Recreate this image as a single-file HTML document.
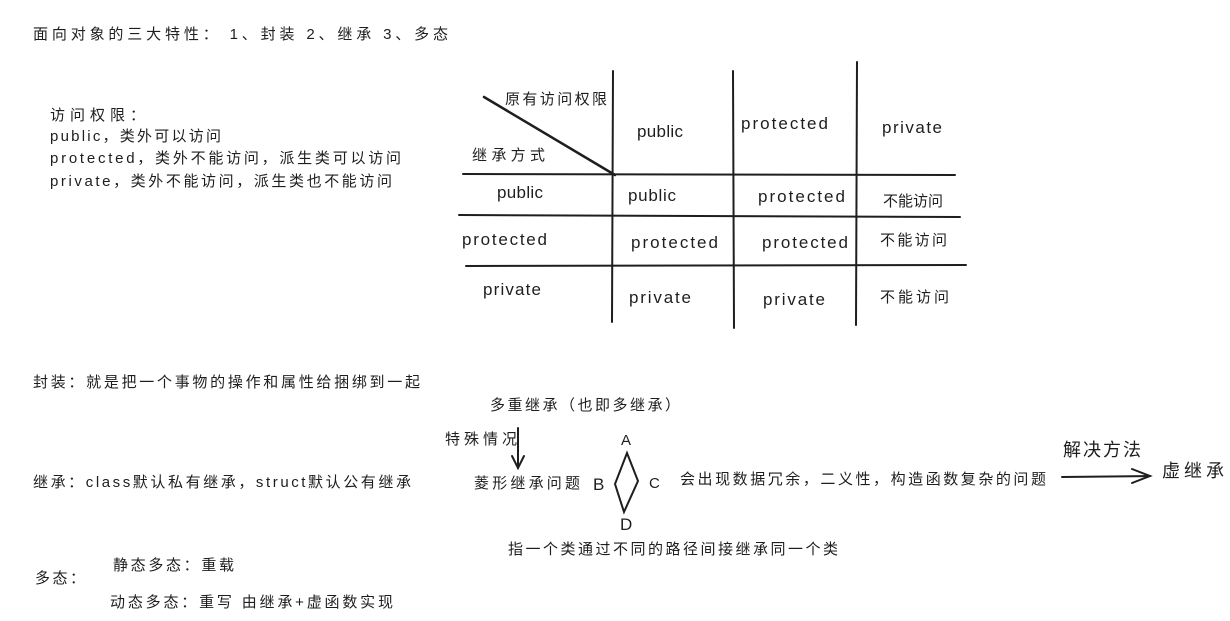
<!DOCTYPE html>
<html><head><meta charset="utf-8"><style>
html,body{margin:0;padding:0;background:#fff;}
svg{display:block;}
text{font-family:"Liberation Sans","Noto Sans CJK SC",sans-serif;font-size:15px;fill:#1e1e1e;}
.b{font-size:17px;}
</style></head><body>
<svg width="1230" height="621" viewBox="0 0 1230 621" xmlns="http://www.w3.org/2000/svg">
<g stroke="#1e1e1e" stroke-width="2" fill="none" stroke-linecap="round">
<line x1="484" y1="97" x2="615" y2="175" stroke-width="2.5"/>
<line x1="613" y1="71" x2="612" y2="322"/>
<line x1="733" y1="71" x2="734" y2="328"/>
<line x1="857" y1="62" x2="856" y2="325"/>
<line x1="463" y1="174" x2="955" y2="175"/>
<line x1="459" y1="215" x2="960" y2="217"/>
<line x1="466" y1="266" x2="966" y2="265"/>
<line x1="518" y1="428" x2="518" y2="468"/>
<path d="M512 456 L518 468 L524 456"/>
<path d="M627 453 L615 484 L624 512 L638 481 Z"/>
<line x1="1062" y1="477" x2="1150" y2="476"/>
<path d="M1132 469 L1150 476 L1132 483"/>
</g>
<text x="33" y="39" textLength="415" lengthAdjust="spacing">面向对象的三大特性：  1、封装   2、继承    3、多态</text>
<text x="50" y="120" textLength="95" lengthAdjust="spacing">访问权限：</text>
<text x="50" y="141" textLength="171" lengthAdjust="spacing">public，类外可以访问</text>
<text x="50" y="163" textLength="351" lengthAdjust="spacing">protected，类外不能访问，派生类可以访问</text>
<text x="50" y="186" textLength="342" lengthAdjust="spacing">private，类外不能访问，派生类也不能访问</text>
<text x="505" y="104" textLength="102" lengthAdjust="spacing">原有访问权限</text>
<text x="472" y="160" textLength="73" lengthAdjust="spacing">继承方式</text>
<text x="637" y="137" class="b" textLength="46" lengthAdjust="spacing">public</text>
<text x="741" y="129" class="b" textLength="87" lengthAdjust="spacing">protected</text>
<text x="882" y="133" class="b" textLength="60" lengthAdjust="spacing">private</text>
<text x="497" y="198" class="b" textLength="46" lengthAdjust="spacing">public</text>
<text x="628" y="201" class="b" textLength="48" lengthAdjust="spacing">public</text>
<text x="758" y="202" class="b" textLength="87" lengthAdjust="spacing">protected</text>
<text x="883" y="206" textLength="60" lengthAdjust="spacing">不能访问</text>
<text x="462" y="245" class="b" textLength="85" lengthAdjust="spacing">protected</text>
<text x="631" y="248" class="b" textLength="87" lengthAdjust="spacing">protected</text>
<text x="762" y="248" class="b" textLength="86" lengthAdjust="spacing">protected</text>
<text x="880" y="245" textLength="67" lengthAdjust="spacing">不能访问</text>
<text x="483" y="295" class="b" textLength="58" lengthAdjust="spacing">private</text>
<text x="629" y="303" class="b" textLength="62" lengthAdjust="spacing">private</text>
<text x="763" y="305" class="b" textLength="62" lengthAdjust="spacing">private</text>
<text x="880" y="302" textLength="69" lengthAdjust="spacing">不能访问</text>
<text x="33" y="387" textLength="387" lengthAdjust="spacing">封装：就是把一个事物的操作和属性给捆绑到一起</text>
<text x="33" y="487" textLength="378" lengthAdjust="spacing">继承：class默认私有继承，struct默认公有继承</text>
<text x="35" y="583" textLength="50" lengthAdjust="spacing">多态：</text>
<text x="113" y="570" textLength="121" lengthAdjust="spacing">静态多态：重载</text>
<text x="110" y="607" textLength="283" lengthAdjust="spacing">动态多态：重写  由继承+虚函数实现</text>
<text x="490" y="410" textLength="190" lengthAdjust="spacing">多重继承（也即多继承）</text>
<text x="445" y="444" textLength="72" lengthAdjust="spacing">特殊情况</text>
<text x="474" y="488" textLength="106" lengthAdjust="spacing">菱形继承问题</text>
<text x="593" y="490" class="b">B</text>
<text x="621" y="445">A</text>
<text x="649" y="488">C</text>
<text x="620" y="530" class="b">D</text>
<text x="680" y="484" textLength="366" lengthAdjust="spacing">会出现数据冗余，二义性，构造函数复杂的问题</text>
<text x="508" y="554" textLength="330" lengthAdjust="spacing">指一个类通过不同的路径间接继承同一个类</text>
<text x="1063" y="456" style="font-size:18px" textLength="78" lengthAdjust="spacing">解决方法</text>
<text x="1162" y="477" style="font-size:18px" textLength="62" lengthAdjust="spacing">虚继承</text>
</svg>
</body></html>
